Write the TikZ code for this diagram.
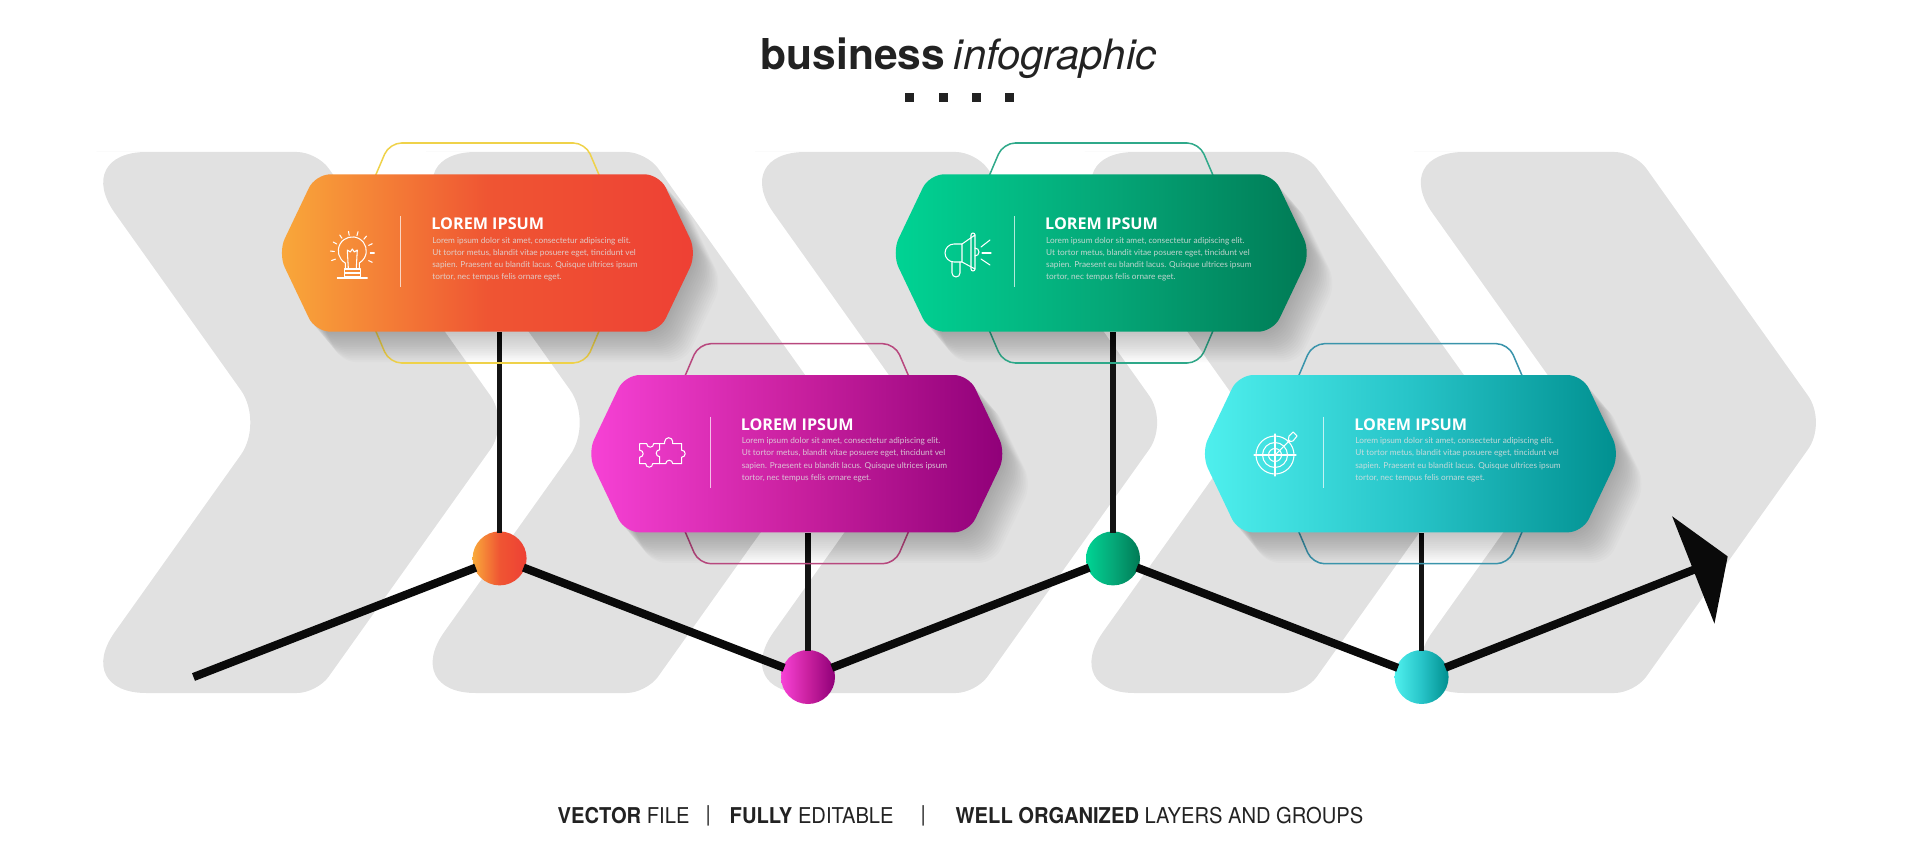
\documentclass[tikz,border=0pt]{standalone}
\usepackage{fontspec}
\usepackage{tikz}
\setmainfont{TeX Gyre Heros}
\newfontfamily\cardfont{Lato}
\newfontfamily\cardhead{Open Sans}
\newfontfamily\footfont[FakeStretch = .925]{TeX Gyre Heros}
\usetikzlibrary{arrows.meta}
\definecolor{chevgray}{HTML}{E1E1E1}
\definecolor{inkgray}{HTML}{222222}
\definecolor{orgA}{HTML}{F9A93A}
\definecolor{orgB}{HTML}{EF5533}
\definecolor{orgC}{HTML}{EE4034}
\definecolor{orgL}{HTML}{EFD24A}
\definecolor{magA}{HTML}{F742D6}
\definecolor{magB}{HTML}{C9209F}
\definecolor{magC}{HTML}{8F0078}
\definecolor{magL}{HTML}{B8487E}
\definecolor{grnA}{HTML}{00D494}
\definecolor{grnB}{HTML}{05A878}
\definecolor{grnC}{HTML}{007A55}
\definecolor{grnL}{HTML}{2FA98A}
\definecolor{tealA}{HTML}{4FF0EE}
\definecolor{tealB}{HTML}{27C4C8}
\definecolor{tealC}{HTML}{008F8F}
\definecolor{tealL}{HTML}{3A94AB}
\newcommand{\cardpath}{(0, .787) [rounded corners = .15cm] -- (1.72, .787) [rounded corners = .16cm] -- (2.095, 0) [rounded corners = .15cm] -- (1.72, -.787) -- (-1.72, -.787) [rounded corners = .16cm] -- (-2.095, 0) [rounded corners = .15cm] -- (-1.72, .787) -- cycle}
\tikzset{cardbox/.style = {inner sep = 0, minimum width = 4.11cm, minimum height = 1.574cm}}
\tikzset{dotnode/.style = {circle, inner sep = 0, minimum size = .54cm, outer sep = -.4pt}}
\tikzset{trunkline/.style = {line width = .082cm, black!96}}
\tikzset{stemline/.style = {line width = .055cm, black!92}}
\tikzset{iconline/.style = {white, line width = .3pt, line cap = round, line join = round}}
\tikzset{cardtitle/.style = {white, inner sep = 0, anchor = west, font = \cardhead\bfseries\fontsize{4.6}{5.5}\selectfont}}
\tikzset{cardtext/.style = {white!88!black, text opacity = .85, inner sep = 0, anchor = west, align = left, font = \cardfont\fontsize{2.35}{3.44}\selectfont}}
\tikzset{footnode/.style = {inner sep = 0, anchor = west, text = inkgray, font = \footfont\fontsize{6.2}{7}\selectfont}}
\tikzset{chevron/.pic = {
  \fill [chevgray] (1, 2.705) [rounded corners = .2cm] -- (2.456, 2.705) [rounded corners = .33cm] -- (4.381, 0)
    [rounded corners = .2cm] -- (2.456, -2.705) [rounded corners = .75cm] -- (0, -2.705)
    [rounded corners = .4cm] -- (1.925, 0) [rounded corners = .75cm] -- (0, 2.705) -- cycle;
}}
\tikzset{pics/hexcard/.style n args = {4}{code = {
  \draw [#1, line width = .43pt, rounded corners = .12cm] (0, 1.1) -- (.98, 1.1) -- (1.45, 0) -- (.98, -1.1) -- (-.98, -1.1) -- (-1.45, 0) -- (-.98, 1.1) -- cycle;
  \foreach \s in {1, ..., 16}
    \fill [black, opacity = .016, shift = {(\s*.016, -\s*.019)}] \cardpath;
  \shade [left color = #2, right color = #4, middle color = #3] \cardpath;
  \draw [white, opacity = .7, line width = .3pt] (-.865, .37) -- (-.865, -.34);
  \node [cardtitle] (title) at (-.567, .29) {LOREM IPSUM};
  \node [cardtext] (body) at (-.557, -.06) {Lorem ipsum dolor sit amet, consectetur adipiscing elit.\\
    Ut tortor metus, blandit vitae posuere eget, tincidunt vel\\
    sapien. Praesent eu blandit lacus. Quisque ultrices ipsum\\
    tortor, nec tempus felis ornare eget.};
}}}
\tikzset{bulbicon/.pic = {
  \draw [iconline] (-.07, -.1) arc [start angle = 240, end angle = -60, radius = .14]
    -- (.07, -.16) -- (-.07, -.16) -- cycle;
  \draw [iconline] (-.04, -.15) -- (-.05, .03) -- (-.02, .01) -- (0, .04) -- (.02, .01) -- (.05, .03) -- (.04, -.15);
  \draw [iconline] (-.08, -.16) rectangle (.08, -.2);
  \draw [iconline] (-.08, -.2) rectangle (.08, -.24);
  \draw [iconline] (-.15, -.25) -- (.15, -.25);
  \foreach \a in {-25, 0, ..., 205}
    \draw [iconline] (\a:.18) -- (\a:.22);
}}
\tikzset{puzzleicon/.pic = {
  \draw [iconline] (-.22, .1) -- (-.15, .1) arc [start angle = 180, end angle = 360, radius = .035] -- (-.02, .1) -- (-.02, .04)
    arc [start angle = 90, end angle = 270, radius = .035] -- (-.02, -.1) -- (-.09, -.1)
    arc [start angle = 0, end angle = -180, radius = .035] -- (-.22, -.1) -- (-.22, -.035)
    arc [start angle = -90, end angle = 90, radius = .035] -- cycle;
  \draw [iconline] (-.02, .1) -- (.03, .1) -- (.03, .12) arc [start angle = 180, end angle = 0, radius = .04] -- (.11, .1) -- (.2, .1) -- (.2, .035)
    arc [start angle = 90, end angle = -90, radius = .035] -- (.2, -.1) -- (.11, -.1)
    arc [start angle = 0, end angle = 180, radius = .035] -- (-.02, -.1);
}}
\tikzset{hornicon/.pic = {
  \draw [iconline] (-.04, .09) -- (-.12, .09) arc [start angle = 90, end angle = 270, radius = .09] -- (-.04, -.09) -- cycle;
  \draw [iconline] (-.04, .09) -- (.09, .18) -- (.09, -.16) -- (-.04, -.09);
  \draw [iconline] (.09, .18) arc [start angle = 0, end angle = 180, radius = .02] -- (.05, -.16) arc [start angle = 180, end angle = 360, radius = .02];
  \draw [iconline] (.09, .05) arc [start angle = 90, end angle = -90, radius = .04];
  \draw [iconline] (-.14, -.09) -- (-.14, -.2) arc [start angle = 180, end angle = 360, radius = .04] -- (-.06, -.09);
  \draw [iconline] (.15, .06) -- (.24, .13);
  \draw [iconline] (.16, 0) -- (.25, 0);
  \draw [iconline] (.15, -.06) -- (.24, -.12);
}}
\tikzset{targeticon/.pic = {
  \draw [iconline] (0, 0) circle [radius = .19];
  \draw [iconline] (0, 0) circle [radius = .125];
  \draw [iconline] (0, 0) circle [radius = .065];
  \draw [iconline] (-.21, 0) -- (.21, 0);
  \draw [iconline] (0, -.21) -- (0, .21);
  \draw [iconline] (0, 0) -- (.15, .15);
  \draw [iconline] (.13, .13) -- (.14, .19) -- (.18, .23) -- (.22, .19) -- (.18, .14) -- cycle;
}}

\begin{document}
\begin{tikzpicture}
  \useasboundingbox (0, 0) rectangle (19.2, 8.45);

  \pic at (.714, 4.225) {chevron};
  \pic at (4.008, 4.225) {chevron};
  \pic at (7.302, 4.225) {chevron};
  \pic at (10.596, 4.225) {chevron};
  \pic at (13.89, 4.225) {chevron};

  \node [inner sep = 0, anchor = base west, text = inkgray, font = \bfseries\fontsize{12.1}{14}\selectfont] (headbold) at (7.6, 7.75) {business};
  \node [inner sep = 0, anchor = base west, text = inkgray, font = \itshape\fontsize{11.9}{14}\selectfont] (headthin) at (9.53, 7.75) {infographic};
  \fill [inkgray] (9.045, 7.435) rectangle +(.09, .09);
  \fill [inkgray] (9.385, 7.435) rectangle +(.09, .09);
  \fill [inkgray] (9.715, 7.435) rectangle +(.09, .09);
  \fill [inkgray] (10.045, 7.435) rectangle +(.09, .09);

  \node [cardbox] (cardone) at (4.874, 5.92) {};
  \node [cardbox] (cardtwo) at (7.968, 3.913) {};
  \node [cardbox] (cardthree) at (11.012, 5.92) {};
  \node [cardbox] (cardfour) at (14.104, 3.913) {};

  \node [dotnode, left color = orgA, right color = orgC, middle color = orgB] (dotone) at (4.996, 2.866) {};
  \node [dotnode, left color = magA, right color = magC, middle color = magB] (dottwo) at (8.08, 1.68) {};
  \node [dotnode, left color = grnA, right color = grnC, middle color = grnB] (dotthree) at (11.13, 2.866) {};
  \node [dotnode, left color = tealA, right color = tealC, middle color = tealB] (dotfour) at (14.216, 1.68) {};
  \coordinate (linestart) at (1.935, 1.68);
  \coordinate (arrowend) at (17.277, 2.886);

  \draw [stemline] (dotone) -- (dotone |- cardone.south);
  \draw [stemline] (dottwo) -- (dottwo |- cardtwo.south);
  \draw [stemline] (dotthree) -- (dotthree |- cardthree.south);
  \draw [stemline] (dotfour) -- (dotfour |- cardfour.south);

  \draw [trunkline] (linestart) -- (dotone);
  \draw [trunkline] (dotone) -- (dottwo);
  \draw [trunkline] (dottwo) -- (dotthree);
  \draw [trunkline] (dotthree) -- (dotfour);
  \draw [trunkline, -{Triangle[length = 3.7mm, width = 11.4mm]}] (dotfour) -- (arrowend);

  \pic (one) at (cardone) {hexcard = {orgL}{orgA}{orgB}{orgC}};
  \pic (two) at (cardtwo) {hexcard = {magL}{magA}{magB}{magC}};
  \pic (three) at (cardthree) {hexcard = {grnL}{grnA}{grnB}{grnC}};
  \pic (four) at (cardfour) {hexcard = {tealL}{tealA}{tealB}{tealC}};

  \pic at (3.523, 5.92) {bulbicon};
  \pic at (6.617, 3.913) {puzzleicon};
  \pic at (9.66, 5.92) {hornicon};
  \pic at (12.75, 3.9) {targeticon};

  \node [footnode] (foota) at (5.57, .29) {\textbf{VECTOR} FILE};
  \node [footnode] (barone) at (7.05, .29) {|};
  \node [footnode] (footb) at (7.29, .29) {\textbf{FULLY} EDITABLE};
  \node [footnode] (bartwo) at (9.2, .29) {|};
  \node [footnode] (footc) at (9.55, .29) {\textbf{WELL ORGANIZED} LAYERS AND GROUPS};
\end{tikzpicture}
\end{document}
